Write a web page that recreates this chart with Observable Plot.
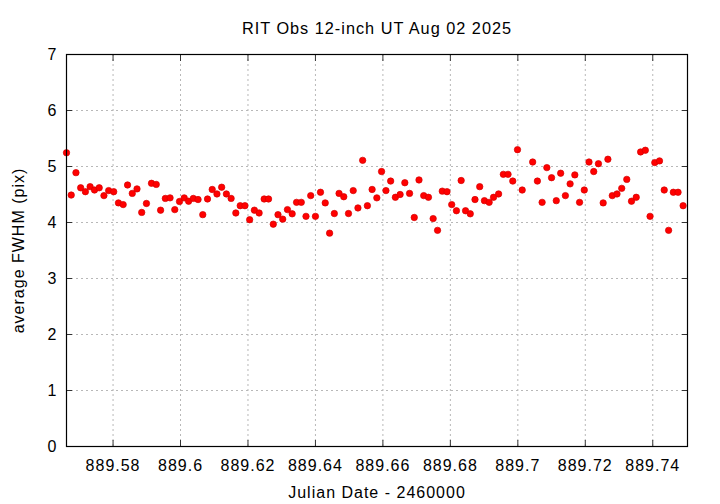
<!DOCTYPE html>
<html>
<head>
<meta charset="utf-8">
<script src="https://cdn.jsdelivr.net/npm/d3@7"></script>
<script src="https://cdn.jsdelivr.net/npm/@observablehq/plot@0.6"></script>
<style>
  html, body { margin: 0; padding: 0; background: #fff; }
  body { width: 720px; height: 504px; overflow: hidden; font-family: "Liberation Sans", Arial, sans-serif; }
  #title { height: 40px; box-sizing: border-box; padding-top: 20px; padding-left: 34px; line-height: 1; font-size: 16.3px; letter-spacing: 1px; text-align: center; color: #000; }
  #chart svg text { letter-spacing: 1px; }
</style>
</head>
<body>
<div id="title">RIT Obs 12-inch UT Aug 02 2025</div>
<div id="chart"></div>
<script>
const titleText = "RIT Obs 12-inch UT Aug 02 2025";
const xLabel = "Julian Date - 2460000";
const yLabel = "average FWHM (pix)";
const xTicks = [889.58, 889.6, 889.62, 889.64, 889.66, 889.68, 889.7, 889.72, 889.74];
const yTicks = [0, 1, 2, 3, 4, 5, 6, 7];
const xDomain = [889.5662, 889.7503];
const yDomain = [0, 7];

const jd = [
  889.5662, 889.5676, 889.5690, 889.5704, 889.5718, 889.5732, 889.5745, 889.5759, 889.5773, 889.5787,
  889.5802, 889.5816, 889.5830, 889.5843, 889.5857, 889.5871, 889.5885, 889.5899, 889.5914, 889.5928,
  889.5941, 889.5955, 889.5969, 889.5983, 889.5997, 889.6011, 889.6024, 889.6038, 889.6052, 889.6066,
  889.6080, 889.6094, 889.6108, 889.6122, 889.6136, 889.6150, 889.6164, 889.6177, 889.6191, 889.6205,
  889.6219, 889.6233, 889.6248, 889.6261, 889.6275, 889.6289, 889.6303, 889.6317, 889.6331, 889.6344,
  889.6358, 889.6372, 889.6386, 889.6400, 889.6415, 889.6429, 889.6442, 889.6456, 889.6470, 889.6484,
  889.6498, 889.6512, 889.6526, 889.6540, 889.6554, 889.6568, 889.6582, 889.6596, 889.6609, 889.6623,
  889.6637, 889.6651, 889.6665, 889.6679, 889.6693, 889.6707, 889.6721, 889.6735, 889.6749, 889.6762,
  889.6776, 889.6790, 889.6804, 889.6818, 889.6832, 889.6845, 889.6859, 889.6873, 889.6887, 889.6901,
  889.6915, 889.6928, 889.6943, 889.6957, 889.6971, 889.6985, 889.6999, 889.7013, 889.7044, 889.7058,
  889.7072, 889.7086, 889.7100, 889.7114, 889.7127, 889.7141, 889.7155, 889.7169, 889.7183, 889.7197,
  889.7211, 889.7225, 889.7239, 889.7253, 889.7267, 889.7280, 889.7294, 889.7308, 889.7323, 889.7337,
  889.7351, 889.7364, 889.7378, 889.7392, 889.7406, 889.7420, 889.7434, 889.7447, 889.7461, 889.7475,
  889.7490
];
const fwhm = [
  5.245, 4.49, 4.89, 4.62, 4.55, 4.64, 4.58, 4.62, 4.48, 4.57,
  4.55, 4.35, 4.32, 4.67, 4.52, 4.60, 4.18, 4.34, 4.70, 4.68,
  4.22, 4.43, 4.44, 4.23, 4.375, 4.44, 4.38, 4.43, 4.41, 4.14,
  4.42, 4.59, 4.51, 4.63, 4.51, 4.43, 4.17, 4.30, 4.30, 4.05,
  4.22, 4.17, 4.42, 4.42, 3.97, 4.14, 4.06, 4.23, 4.155, 4.36,
  4.36, 4.11, 4.48, 4.11, 4.54, 4.35, 3.81, 4.16, 4.52, 4.46,
  4.16, 4.57, 4.26, 5.11, 4.30, 4.59, 4.44, 4.91, 4.57, 4.74,
  4.45, 4.50, 4.71, 4.52, 4.09, 4.76, 4.48, 4.45, 4.07, 3.86,
  4.56, 4.55, 4.32, 4.21, 4.75, 4.21, 4.155, 4.41, 4.64, 4.39,
  4.36, 4.45, 4.51, 4.86, 4.86, 4.74, 5.30, 4.58, 5.08, 4.74,
  4.36, 4.98, 4.80, 4.39, 4.88, 4.48, 4.69, 4.85, 4.36, 4.58,
  5.08, 4.91, 5.05, 4.35, 5.13, 4.48, 4.51, 4.61, 4.77, 4.38,
  4.45, 5.26, 5.29, 4.11, 5.07, 5.10, 4.58, 3.86, 4.54, 4.54,
  4.30
];

const data = jd.map((x, i) => ({x, y: fwhm[i]}));
const fmt = d => String(+d.toFixed(2));
const gridStyle = {stroke: "#b8b8b8", strokeOpacity: 1, strokeWidth: 1, strokeDasharray: "2,3"};
const tickStroke = "#333";

const chart = Plot.plot({
  width: 720,
  height: 464,
  marginTop: 14,
  marginBottom: 58,
  marginLeft: 66,
  marginRight: 33,
  style: {fontFamily: "'Liberation Sans', Arial, sans-serif", fontSize: "16px", color: "#000", background: "#fff"},
  x: {domain: xDomain},
  y: {domain: yDomain},
  marks: [
    Plot.gridX(xTicks, gridStyle),
    Plot.gridY(yTicks, gridStyle),
    Plot.axisX(xTicks, {anchor: "bottom", tickSize: 0, tickPadding: 13, tickFormat: fmt, fill: "#000",
      label: xLabel, labelAnchor: "center", labelOffset: 51, labelArrow: "none"}),
    Plot.axisX(xTicks, {anchor: "bottom", tickSize: -6, tickFormat: () => "", label: null, stroke: tickStroke}),
    Plot.axisX(xTicks, {anchor: "top", tickSize: -6, tickFormat: () => "", label: null, stroke: tickStroke}),
    Plot.axisY(yTicks, {anchor: "left", tickSize: 0, tickPadding: 9, tickFormat: fmt, fill: "#000",
      label: yLabel, labelAnchor: "center", labelOffset: 54, labelArrow: "none"}),
    Plot.axisY(yTicks, {anchor: "left", tickSize: -6, tickFormat: () => "", label: null, stroke: tickStroke}),
    Plot.axisY(yTicks, {anchor: "right", tickSize: -6, tickFormat: () => "", label: null, stroke: tickStroke}),
    Plot.dot(data, {x: "x", y: "y", r: 3.2, fill: "#ff0000", stroke: "#d40000", strokeWidth: 0.7}),
    Plot.frame({stroke: "#000", strokeWidth: 1.2})
  ]
});
document.getElementById("chart").appendChild(chart);
</script>
</body>
</html>
